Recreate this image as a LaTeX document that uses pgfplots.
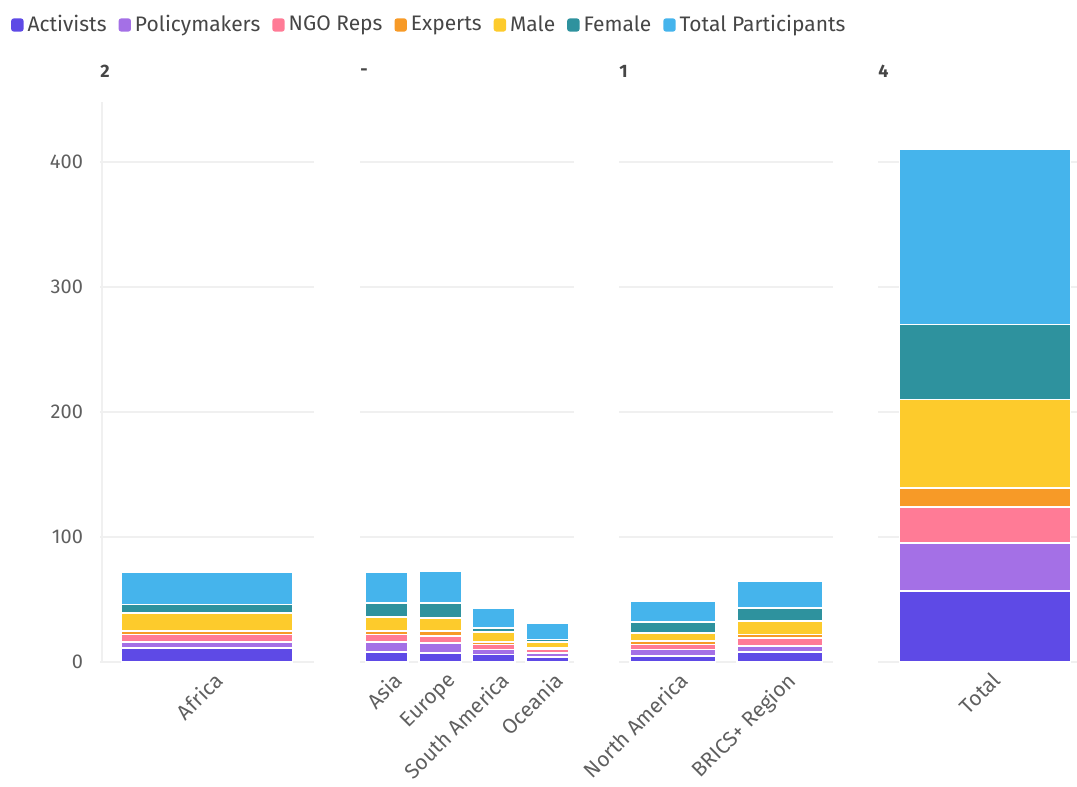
\documentclass[border=0pt]{standalone}
\usepackage{fontspec}
\setmainfont{Fira Sans}
\usepackage{pgfplots}
\usepackage{pgfplotstable}
\pgfplotsset{compat=1.18}
\definecolor{cAct}{RGB}{94,74,230}
\definecolor{cPol}{RGB}{164,112,230}
\definecolor{cNGO}{RGB}{255,123,150}
\definecolor{cExp}{RGB}{247,154,39}
\definecolor{cMale}{RGB}{253,203,44}
\definecolor{cFem}{RGB}{46,146,158}
\definecolor{cTot}{RGB}{69,180,236}
\definecolor{gridc}{RGB}{240,240,240}
\definecolor{txt}{RGB}{70,70,70}
\definecolor{ticktxt}{RGB}{95,95,95}

\pgfplotstableread{
x Act Pol NGO Exp Male Fem Tot
0 11 5 6 3 14 7 26
}\tabA
\pgfplotstableread{
x Act Pol NGO Exp Male Fem Tot
0 8 8 6 3 11 11 25
1 7 8 6 4 10 12 26
2 6 4 4 2 8 3 16
3 4 3 3 1 5 2 13
}\tabB
\pgfplotstableread{
x Act Pol NGO Exp Male Fem Tot
0 5 5 4 3 6 9 17
1 8 5 6 3 11 10 22
}\tabC
\pgfplotstableread{
x Act Pol NGO Exp Male Fem Tot
0 57 38 29 15 71 60 140
}\tabD

\newcommand{\plotall}[1]{%
  \addplot[fill=cAct] table[x=x,y=Act]{#1};
  \addplot[fill=cPol] table[x=x,y=Pol]{#1};
  \addplot[fill=cNGO] table[x=x,y=NGO]{#1};
  \addplot[fill=cExp] table[x=x,y=Exp]{#1};
  \addplot[fill=cMale] table[x=x,y=Male]{#1};
  \addplot[fill=cFem] table[x=x,y=Fem]{#1};
  \addplot[fill=cTot] table[x=x,y=Tot]{#1};
}

\tikzset{head/.style={anchor=west, font=\fontsize{9}{11}\selectfont\bfseries, text=txt, inner sep=0pt}}

\pgfplotsset{
  panel/.style={
    scale only axis, width=107pt, height=280pt,
    ymin=0, ymax=448,
    ybar stacked, bar width=0.8,
    every axis plot/.append style={draw=white, line width=0.8pt},
    axis line style={draw=none},
    major tick length=0pt,
    ytick={0,100,200,300,400},
    ymajorgrids, grid style={gridc, line width=0.6pt},
    enlarge x limits=false,
    xticklabel style={rotate=45, anchor=north east, font=\fontsize{10.5}{12}\selectfont, text=ticktxt, inner sep=1pt, yshift=-4pt},
    yticklabel style={font=\fontsize{10}{12}\selectfont, text=ticktxt, xshift=-5pt},
    /pgf/number format/assume math mode=true,
    clip=false,
  },
}

\begin{document}
\begin{tikzpicture}
% Panel 1
\begin{axis}[panel, at={(50pt,62.5pt)}, anchor=south west,
  xmin=-0.5, xmax=0.5, xtick={0}, xticklabels={Africa},
  legend style={at={(-0.445,1.1375)}, anchor=west, draw=none, fill=none,
    legend columns=-1, font=\fontsize{10.5}{12}\selectfont, text=txt,
    /tikz/every odd column/.append style={column sep=0pt},
    /tikz/every even column/.append style={column sep=4pt}},
  legend image code/.code={\fill[#1, draw=none, rounded corners=1.3pt] (0pt,-3.3pt) rectangle (6.2pt,3.3pt);},
  ]
\plotall{\tabA}
\legend{Activists,Policymakers,NGO Reps,Experts,Male,Female,Total Participants}
\draw[gridc, line width=0.8pt] (rel axis cs:0.01,0) -- (rel axis cs:0.01,1);
\node[head] at (rel axis cs:0,1.054) {2};
\end{axis}
% Panel 2
\begin{axis}[panel, at={(180pt,62.5pt)}, anchor=south west,
  xmin=-0.5, xmax=3.5, xtick={0,1,2,3},
  xticklabels={Asia,Europe,South America,Oceania}, yticklabels={}]
\plotall{\tabB}
\node[head] at (rel axis cs:0,1.054) {-};
\end{axis}
% Panel 3
\begin{axis}[panel, at={(309.5pt,62.5pt)}, anchor=south west,
  xmin=-0.5, xmax=1.5, xtick={0,1},
  xticklabels={North America,BRICS+ Region}, yticklabels={}]
\plotall{\tabC}
\node[head] at (rel axis cs:0,1.054) {1};
\end{axis}
% Panel 4
\begin{axis}[panel, at={(439pt,62.5pt)}, anchor=south west,
  xmin=-0.5, xmax=0.5, xtick={0},
  xticklabels={Total}, yticklabels={}]
\plotall{\tabD}
\node[head] at (rel axis cs:0,1.054) {4};
\end{axis}
\pgfresetboundingbox
\useasboundingbox (0,0) rectangle (538.5pt,393.5pt);
\end{tikzpicture}
\end{document}
